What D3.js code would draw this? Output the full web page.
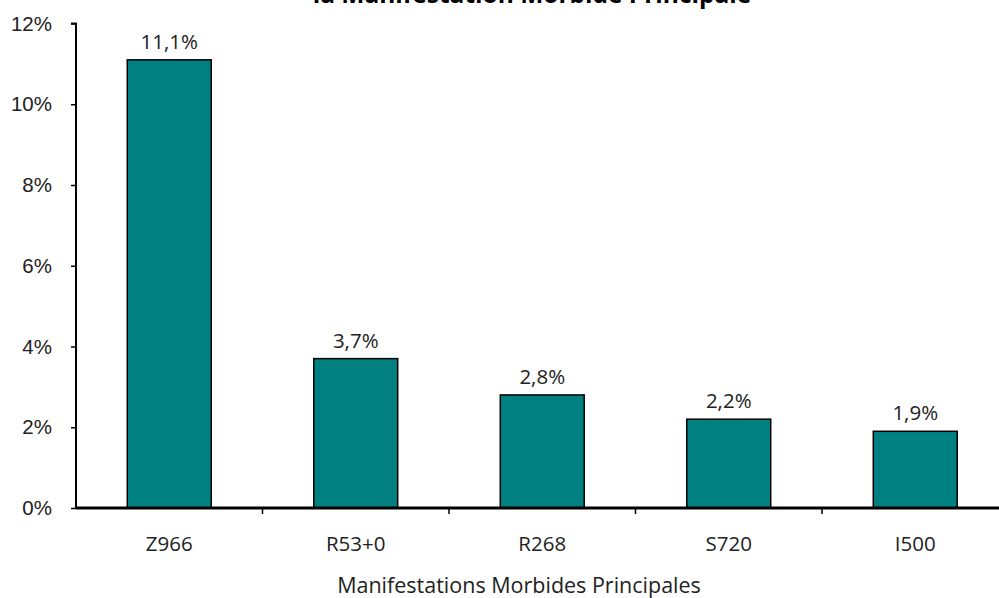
<!DOCTYPE html>
<html>
<head>
<meta charset="utf-8">
<style>
body {
    margin: 0;
    background: #fff;
    font-family: "Open Sans", "Noto Sans", sans-serif;
}
svg { display: block; }
</style>
</head>
<body>
<script src="https://d3js.org/d3.v7.min.js"></script>
<script>
// chart data
var categories = ["Z966", "R53+0", "R268", "S720", "I500"];
var values = [0.111, 0.037, 0.028, 0.022, 0.019];
var valueLabels = ["11,1%", "3,7%", "2,8%", "2,2%", "1,9%"];
var yTicks = [0, 0.02, 0.04, 0.06, 0.08, 0.10, 0.12];
var chartTitle = "la Manifestation Morbide Principale";
var xTitle = "Manifestations Morbides Principales";

var W = 999, H = 598;
var plotLeft = 76, plotRight = 1008.5, plotTop = 23.5, plotBottom = 508;
var labelSize = "20.5px";

var svg = d3.select("body").append("svg")
    .attr("width", W)
    .attr("height", H);

var x = d3.scaleBand()
    .domain(categories)
    .range([plotLeft, plotRight])
    .paddingInner(0.55)
    .paddingOuter(0.275);

var y = d3.scaleLinear()
    .domain([0, 0.12])
    .range([plotBottom, plotTop]);

var pct = function(d) { return Math.round(d * 100) + "%"; };

// title (only its last line shows above the plot)
svg.append("text")
    .attr("x", 532)
    .attr("y", 3)
    .attr("text-anchor", "middle")
    .style("font-size", "24.5px")
    .style("font-weight", "bold")
    .attr("fill", "#000")
    .text(chartTitle);

// y axis
var yAxis = d3.axisLeft(y)
    .tickValues(yTicks)
    .tickFormat(pct)
    .tickSize(5)
    .tickPadding(19);

var gy = svg.append("g")
    .attr("transform", "translate(" + plotLeft + ",0)")
    .call(yAxis);
gy.select(".domain").attr("stroke", "#000").attr("stroke-width", 2)
    .attr("d", "M-5," + plotTop + "H0V" + plotBottom);
gy.selectAll(".tick line").attr("stroke", "#000").attr("stroke-width", 1.5);
gy.selectAll(".tick text")
    .style("font-size", labelSize)
    .attr("fill", "#222")
    .attr("font-family", null);

// bars
svg.append("g").selectAll("rect")
    .data(values)
    .enter().append("rect")
    .attr("x", function(d, i) { return x(categories[i]); })
    .attr("y", function(d) { return y(d); })
    .attr("width", x.bandwidth())
    .attr("height", function(d) { return y(0) - y(d); })
    .attr("fill", "#008080")
    .attr("stroke", "#000")
    .attr("stroke-width", 1.5);

// value labels
svg.append("g").selectAll("text")
    .data(values)
    .enter().append("text")
    .attr("x", function(d, i) { return x(categories[i]) + x.bandwidth() / 2; })
    .attr("y", function(d) { return y(d) - 11; })
    .attr("text-anchor", "middle")
    .style("font-size", labelSize)
    .attr("fill", "#222")
    .text(function(d, i) { return valueLabels[i]; });

// x axis: line, ticks between categories, labels at centres
var step = x.step();
var gx = svg.append("g");
gx.append("line")
    .attr("x1", plotLeft).attr("x2", W)
    .attr("y1", plotBottom).attr("y2", plotBottom)
    .attr("stroke", "#000").attr("stroke-width", 3);
gx.selectAll(".xt")
    .data(d3.range(1, categories.length))
    .enter().append("line")
    .attr("class", "xt")
    .attr("x1", function(i) { return plotLeft + i * step; })
    .attr("x2", function(i) { return plotLeft + i * step; })
    .attr("y1", plotBottom).attr("y2", plotBottom + 6)
    .attr("stroke", "#000").attr("stroke-width", 1.5);
gx.selectAll(".xl")
    .data(categories)
    .enter().append("text")
    .attr("class", "xl")
    .attr("x", function(d) { return x(d) + x.bandwidth() / 2; })
    .attr("y", 551)
    .attr("text-anchor", "middle")
    .style("font-size", labelSize)
    .attr("fill", "#222")
    .text(function(d) { return d; });

svg.append("text")
    .attr("x", 519)
    .attr("y", 593)
    .attr("text-anchor", "middle")
    .style("font-size", "21.5px")
    .attr("fill", "#222")
    .text(xTitle);
</script>
</body>
</html>
